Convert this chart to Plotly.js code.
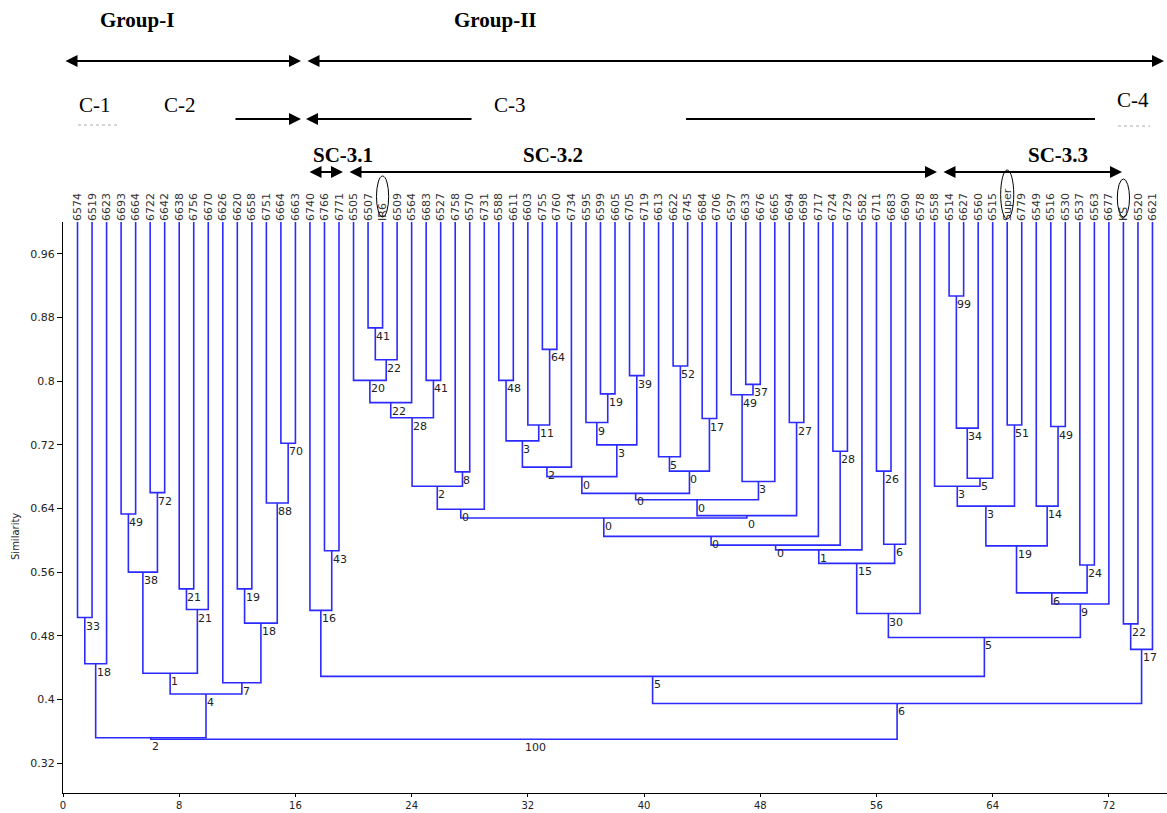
<!DOCTYPE html>
<html><head><meta charset="utf-8">
<script src="https://cdn.plot.ly/plotly-3.0.1.min.js"></script>
<style>html,body{margin:0;padding:0;background:#fff}#chart{width:1167px;height:813px}</style>
</head><body><div id="chart"></div>
<script>
// ---- DATA ----
const leafLabels = ['6574','6519','6623','6693','6664','6722','6642','6638','6756','6670',
 '6626','6620','6658','6751','6664','6663','6740','6766','6771','6505',
 '6507','IR6','6509','6564','6683','6527','6758','6570','6731','6588',
 '6611','6603','6755','6760','6734','6595','6599','6605','6705','6719',
 '6613','6622','6745','6684','6706','6597','6633','6676','6665','6694',
 '6698','6717','6724','6729','6582','6711','6683','6690','6578','6558',
 '6514','6627','6560','6515','Super','6779','6549','6516','6530','6537',
 '6563','6677','KS','6520','6621'];
// merge k joins mergeLeft[k] and mergeRight[k] (L# = leaf #, N# = merge #)
const mergeLeft = ['L1','N0','L4','L6','N2','L8','N5','N4','L12','L15','L14','N8','L11','N7','N1',
 'L18','L17','L21','N17','L20','N19','L25','N20','L27','N22','N24','L30','L33','L32','N26',
 'N29','L37','L36','L39','N32','N30','L42','L41','L44','N37','N35','L47','L46','N42','N40',
 'L50','N44','N25','N47','L53','N48','N50','L56','N52','N51','N54','L61','N56','N57','L60',
 'L65','N59','L68','L67','N61','L70','N64','N66','N55','N16','L73','N70','N69','N14'];
const mergeRight = ['L2','L3','L5','L7','N3','L9','L10','N6','L13','L16','N9','N10','N11','N12','N13',
 'L19','N15','L22','L23','N18','L24','L26','N21','L28','N23','L29','L31','L34','N27','N28',
 'L35','L38','N31','L40','N33','N34','L43','N36','L45','N38','N39','L48','N41','L49','N43',
 'L51','N45','N46','L52','L54','N49','L55','L57','L58','N53','L59','L62','L63','L64','N58',
 'L66','N60','L69','N62','N63','L71','N65','L72','N67','N68','L74','L75','N71','N72'];
const mergeSim = [0.503,0.445,0.633,0.660,0.560,0.539,0.513,0.433,0.539,0.722,0.647,0.496,0.421,0.407,0.352,
 0.587,0.512,0.867,0.827,0.801,0.773,0.801,0.754,0.686,0.668,0.639,0.801,0.840,0.745,0.725,
 0.692,0.784,0.748,0.807,0.720,0.680,0.819,0.705,0.753,0.687,0.659,0.796,0.783,0.674,0.651,
 0.748,0.631,0.628,0.605,0.712,0.594,0.588,0.687,0.595,0.571,0.508,0.907,0.741,0.678,0.668,
 0.745,0.643,0.743,0.643,0.593,0.569,0.534,0.520,0.478,0.429,0.495,0.463,0.395,0.350];
const mergeBoot = [33,18,49,72,38,21,21,1,19,70,88,18,7,4,2,
 43,16,41,22,20,22,41,28,8,2,0,48,64,11,3,
 2,19,9,39,3,0,52,5,17,0,0,37,49,3,0,
 27,0,0,0,28,0,1,26,6,15,30,99,34,5,3,
 51,3,49,14,19,24,6,9,5,5,22,17,6,100];
const yTickVals = [0.32,0.40,0.48,0.56,0.64,0.72,0.80,0.88,0.96];
const yTickText = ['0.32','0.4','0.48','0.56','0.64','0.72','0.8','0.88','0.96'];
const xTickVals = [0,8,16,24,32,40,48,56,64,72];

// ---- BUILD ----
const W = 1167, H = 813, L = 63, R = 1167, T = 222, B = 793;
const yTop = 1.0, yBot = 0.28 + 2 / 795.8;
const px = X => (X - L) / (R - L);
const py = Y => (B - Y) / (B - T);

const nodeX = {}, nodeTop = {};
const leafX = leafLabels.map((_, i) => i + 1);
leafX.forEach((x, i) => { nodeX['L' + (i + 1)] = x; nodeTop['L' + (i + 1)] = yTop; });
const lx = [], ly = [];
const annotations = [];
const lblFont = {family: 'DejaVu Sans, Verdana, sans-serif', size: 11, color: '#222'};
mergeSim.forEach((s, k) => {
  const a = mergeLeft[k], b = mergeRight[k];
  const xa = nodeX[a], xb = nodeX[b];
  lx.push(xa, xa, xb, xb, null);
  ly.push(nodeTop[a], s, s, nodeTop[b], null);
  const xm = (xa + xb) / 2;
  nodeX['N' + k] = xm; nodeTop['N' + k] = s;
  annotations.push({xref: 'x', yref: 'y', x: xm, y: s, text: String(mergeBoot[k]),
    showarrow: false, xanchor: 'left', yanchor: 'top', yshift: -1, borderpad: 0, font: lblFont});
});

const serif = 'Liberation Serif, Times New Roman, serif';
function txt(t, X, Y, bold) {
  annotations.push({xref: 'paper', yref: 'paper', x: px(X), y: py(Y), text: bold ? '<b>' + t + '</b>' : t,
    showarrow: false, xanchor: 'center', yanchor: 'middle', font: {family: serif, size: 21, color: '#000'}});
}
txt('Group-I', 137, 20, true);
txt('Group-II', 495, 20, true);
txt('C-1', 95, 105, false);
txt('C-2', 180, 105, false);
txt('C-3', 510, 105, false);
txt('C-4', 1133, 100, false);
txt('SC-3.1', 343, 155, true);
txt('SC-3.2', 553, 155, true);
txt('SC-3.3', 1058, 155, true);

function arrow(headX, tailX, Y, side) {
  annotations.push({xref: 'paper', yref: 'paper', x: px(headX), y: py(Y), ax: tailX - headX, ay: 0,
    axref: 'pixel', ayref: 'pixel', text: '', showarrow: true, arrowhead: 2, arrowsize: 1.2,
    arrowwidth: 2, arrowcolor: '#000', arrowside: side, standoff: 0, startstandoff: 0});
}
arrow(301, 64, 61, 'end+start');
arrow(1164, 306, 61, 'end+start');
arrow(301, 234, 119, 'end');
arrow(306, 473, 119, 'end');
arrow(343, 308, 172, 'end+start');
arrow(937, 348, 172, 'end+start');
arrow(1122, 942, 172, 'end+start');

annotations.push({xref: 'paper', yref: 'paper', x: px(15), y: py(537), text: 'Similarity', textangle: -90,
  showarrow: false, xanchor: 'center', yanchor: 'middle', font: {family: 'DejaVu Sans, sans-serif', size: 10, color: '#222'}});

const shapes = [
  {type: 'line', xref: 'paper', yref: 'paper', x0: px(686), x1: px(1095), y0: py(119), y1: py(119), line: {color: '#000', width: 2}},
  {type: 'line', xref: 'paper', yref: 'paper', x0: px(78), x1: px(120), y0: py(125), y1: py(125), line: {color: '#c8c8c8', width: 1.5, dash: 'dot'}},
  {type: 'line', xref: 'paper', yref: 'paper', x0: px(1118), x1: px(1150), y0: py(126), y1: py(126), line: {color: '#c8c8c8', width: 1.5, dash: 'dot'}},
  {type: 'circle', xref: 'x', yref: 'paper', x0: 22 - 0.42, x1: 22 + 0.42, y0: py(217), y1: py(176), line: {color: '#000', width: 1}},
  {type: 'circle', xref: 'x', yref: 'paper', x0: 65 - 0.45, x1: 65 + 0.45, y0: py(219), y1: py(170), line: {color: '#000', width: 1}},
  {type: 'circle', xref: 'x', yref: 'paper', x0: 73 - 0.42, x1: 73 + 0.42, y0: py(217), y1: py(179), line: {color: '#000', width: 1}}
];

const traces = [
  {x: lx, y: ly, mode: 'lines', line: {color: '#2b2bff', width: 1.6}, hoverinfo: 'skip', showlegend: false},
  {x: leafX, y: leafX.map(() => yTop), xaxis: 'x2', yaxis: 'y', mode: 'markers', marker: {opacity: 0}, hoverinfo: 'skip', showlegend: false}
];

const axFont = {family: 'DejaVu Sans, Verdana, sans-serif', size: 11, color: '#222'};
const layout = {
  width: W, height: H,
  margin: {l: L, r: W - R, t: T, b: H - B, pad: 0},
  paper_bgcolor: '#fff', plot_bgcolor: '#fff',
  showlegend: false,
  xaxis: {range: [0, 76], tickvals: xTickVals, ticks: 'outside', ticklen: 3, tickcolor: '#000',
    showline: true, linecolor: '#000', linewidth: 1, showgrid: false, zeroline: false,
    tickfont: {family: 'DejaVu Sans, Verdana, sans-serif', size: 10, color: '#222'}},
  xaxis2: {range: [0, 76], overlaying: 'x', side: 'top', anchor: 'y', tickvals: leafX, ticktext: leafLabels,
    tickangle: -90, ticks: '', showline: false, showgrid: false, zeroline: false,
    tickfont: {family: 'DejaVu Sans, Verdana, sans-serif', size: 11, color: '#333'}},
  yaxis: {range: [yBot, yTop], tickvals: yTickVals, ticktext: yTickText, ticks: 'outside', ticklen: 5, tickcolor: '#000',
    showline: true, linecolor: '#000', linewidth: 1, showgrid: false, zeroline: false, tickfont: axFont},
  annotations: annotations,
  shapes: shapes
};
Plotly.newPlot('chart', traces, layout, {displayModeBar: false, staticPlot: true});
</script>
</body></html>
